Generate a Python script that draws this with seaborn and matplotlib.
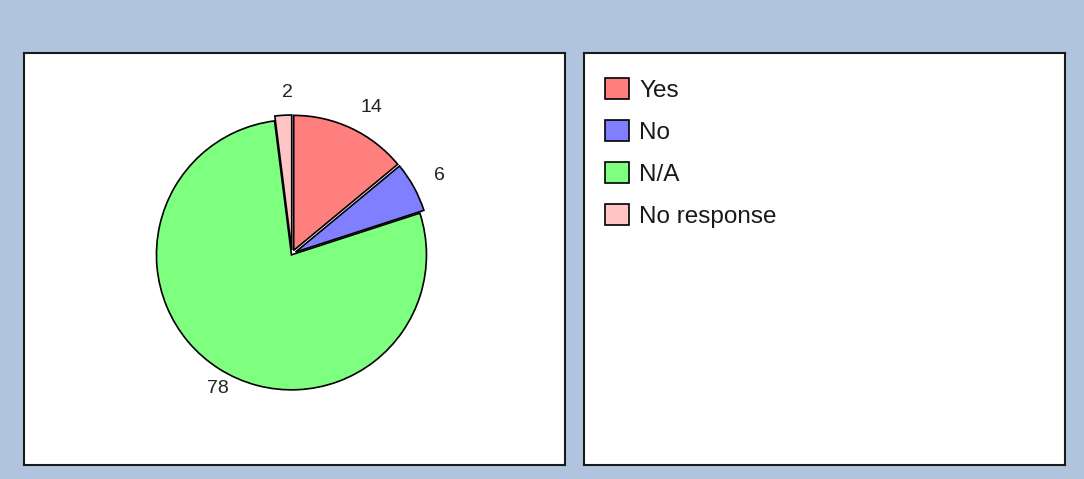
import matplotlib
matplotlib.use("Agg")
import matplotlib.pyplot as plt
import seaborn as sns
import numpy as np

categories = ["Yes", "No", "N/A", "No response"]
values = [14, 6, 78, 2]
colors = ["#FF7F7F", "#7F7FFF", "#7FFF7F", "#FFC4C4"]

sns.set_style("white")
plt.rcParams["font.family"] = ["Liberation Sans", "DejaVu Sans"]

W, H = 1084, 479
fig = plt.figure(figsize=(W / 100, H / 100), dpi=100)
fig.patch.set_facecolor("#B0C4DE")

def px_axes(x0, y0, x1, y1):
    return fig.add_axes([x0 / W, 1 - y1 / H, (x1 - x0) / W, (y1 - y0) / H])

# left panel
axL = px_axes(24, 53, 565, 465)
axL.set_xticks([]); axL.set_yticks([])
for s in axL.spines.values():
    s.set_color("#1a1a1a"); s.set_linewidth(1.5)

wedges, texts = axL.pie(
    values, labels=[str(v) for v in values], colors=colors,
    startangle=90, counterclock=False, center=(268, 211), radius=135,
    explode=[4, 4, 1, 4], labeldistance=1.17,
    wedgeprops=dict(edgecolor="black", linewidth=1.2),
    textprops=dict(fontsize=14, color="#222222"), frame=True,
)
axL.set_xlim(0, 541)
axL.set_ylim(0, 412)
axL.set_aspect("auto")

# right panel
axR = px_axes(584, 53, 1065, 465)
axR.set_xticks([]); axR.set_yticks([])
axR.set_facecolor("white")
for s in axR.spines.values():
    s.set_color("#1a1a1a"); s.set_linewidth(1.5)

leg = axR.legend(wedges, categories, loc="upper left", bbox_to_anchor=(0.044, 0.94),
                 frameon=False, fontsize=17.5, handlelength=0.98, handleheight=0.98,
                 labelspacing=0.74, handletextpad=0.42, borderpad=0, borderaxespad=0)
for t in leg.get_texts():
    t.set_color("#1a1a1a")

fig.savefig("out.png", dpi=100, facecolor=fig.get_facecolor())
